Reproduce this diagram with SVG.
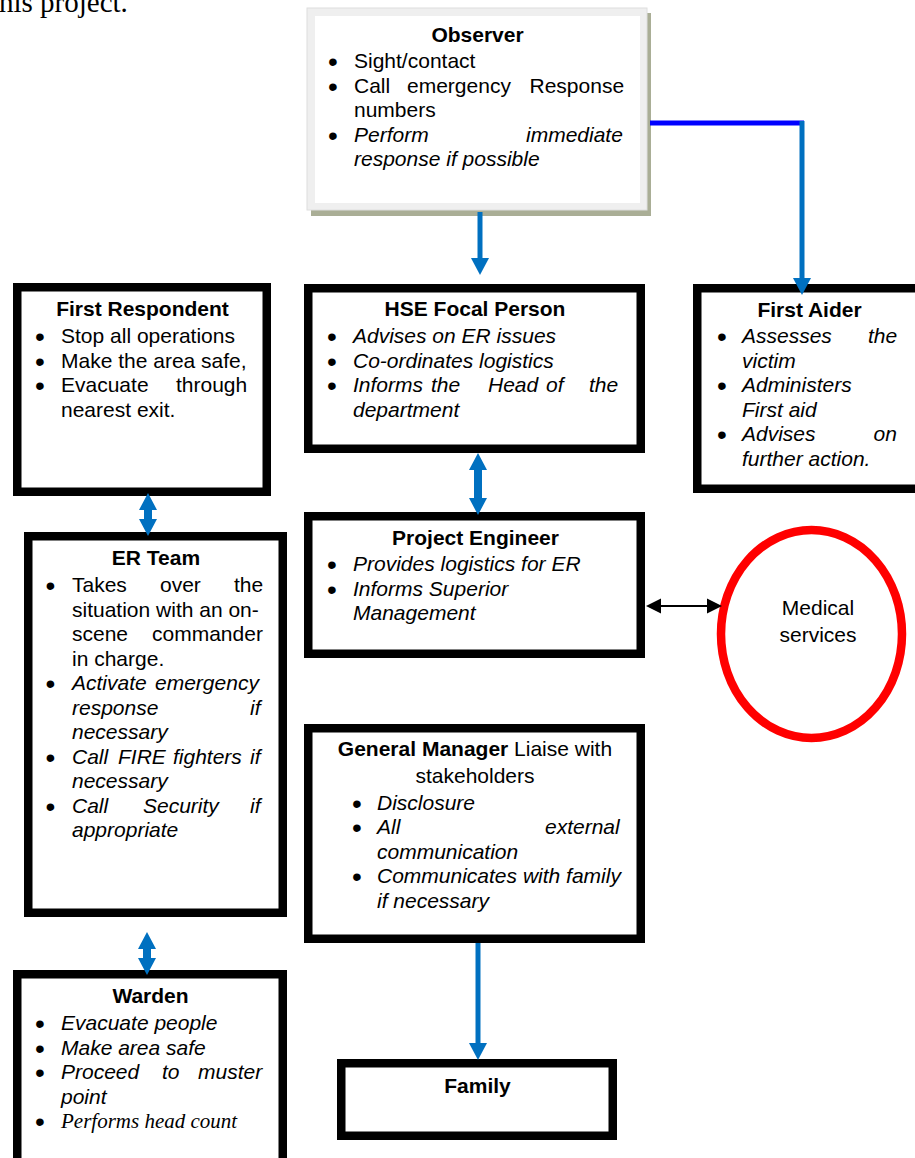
<svg xmlns="http://www.w3.org/2000/svg" width="915" height="1158" viewBox="0 0 915 1158">
<style>
.t{font-family:"Liberation Sans",Arial,sans-serif;font-size:21px;fill:#000}
.u{font-family:"Liberation Sans",Arial,sans-serif;font-size:28px;fill:#000}
.b{font-weight:bold}
.i{font-style:italic}
.c{text-anchor:middle}
.box{fill:#fff;stroke:#000;stroke-width:8.5}
.blue{stroke:#0070c0;stroke-width:5;fill:none}
.ah{fill:#0070c0}
</style>
<rect width="915" height="1158" fill="#fff"/>
<text x="-1" y="12" style="font-family:'Liberation Serif','Times New Roman',serif;font-size:29px;fill:#000">his project.</text>

<g id="observer">
<rect x="311" y="13" width="340" height="203" fill="#aaae96"/>
<rect x="307" y="8" width="340" height="202" fill="#efefef" stroke="#dedede" stroke-width="1"/>
<rect x="315" y="16" width="325" height="187" fill="#fff"/>
<text class="t b c" x="477.5" y="42">Observer</text>
<text class="u" x="328" y="71">•</text><text class="t" x="354" y="68">Sight/contact</text>
<text class="u" x="328" y="95.5">•</text><text class="t" y="92.5"><tspan x="354">Call</tspan><tspan x="407">emergency</tspan><tspan x="529.5">Response</tspan></text>
<text class="t" x="354" y="117">numbers</text>
<text class="u" x="328" y="144.5">•</text><text class="t i" y="141.5"><tspan x="354">Perform</tspan><tspan x="526">immediate</tspan></text>
<text class="t i" x="354" y="166">response if possible</text>
</g>

<g id="first-respondent">
<rect class="box" x="17.25" y="287.25" width="249.5" height="204.5"/>
<text class="t b c" x="142.5" y="316">First Respondent</text>
<text class="u" x="35" y="346">•</text><text class="t" x="61" y="343">Stop all operations</text>
<text class="u" x="35" y="370.5">•</text><text class="t" x="61" y="367.5">Make the area safe,</text>
<text class="u" x="35" y="395">•</text><text class="t" y="392"><tspan x="61">Evacuate</tspan><tspan x="176">through</tspan></text>
<text class="t" x="61" y="416.5">nearest exit.</text>
</g>

<g id="hse-focal-person">
<rect class="box" x="308.25" y="288.25" width="332.5" height="160.5"/>
<text class="t b c" x="475" y="316">HSE Focal Person</text>
<text class="u" x="327" y="346">•</text><text class="t i" x="353" y="343">Advises on ER issues</text>
<text class="u" x="327" y="370.5">•</text><text class="t i" x="353" y="367.5">Co-ordinates logistics</text>
<text class="u" x="327" y="395">•</text><text class="t i" y="392"><tspan x="353">Informs</tspan><tspan x="431">the</tspan><tspan x="488">Head</tspan><tspan x="546">of</tspan><tspan x="589">the</tspan></text>
<text class="t i" x="353" y="416.5">department</text>
</g>

<g id="first-aider">
<rect class="box" x="697.25" y="288.25" width="240" height="200.5"/>
<text class="t b c" x="809.5" y="317">First Aider</text>
<text class="u" x="717" y="346">•</text><text class="t i" y="343"><tspan x="742">Assesses</tspan><tspan x="868">the</tspan></text>
<text class="t i" x="742" y="367.5">victim</text>
<text class="u" x="717" y="395">•</text><text class="t i" x="742" y="392">Administers</text>
<text class="t i" x="742" y="416.5">First aid</text>
<text class="u" x="717" y="444">•</text><text class="t i" y="441"><tspan x="742">Advises</tspan><tspan x="873.5">on</tspan></text>
<text class="t i" x="742" y="465.5">further action.</text>
</g>

<g id="project-engineer">
<rect class="box" x="308.25" y="516.25" width="332.5" height="137.5"/>
<text class="t b c" x="475.5" y="545">Project Engineer</text>
<text class="u" x="327" y="574">•</text><text class="t i" x="353" y="571">Provides logistics for ER</text>
<text class="u" x="327" y="598.5">•</text><text class="t i" x="353" y="595.5">Informs Superior</text>
<text class="t i" x="353" y="620">Management</text>
</g>

<g id="medical-services">
<ellipse cx="811.5" cy="634" rx="90.5" ry="104" fill="#fff" stroke="#ff0000" stroke-width="8.5"/>
<text class="t c" x="818" y="615">Medical</text>
<text class="t c" x="818" y="642">services</text>
</g>

<g id="er-team">
<rect class="box" x="28.25" y="536.25" width="254.5" height="376.5"/>
<text class="t b c" x="156" y="565">ER Team</text>
<text class="u" x="45.5" y="595">•</text><text class="t" y="592"><tspan x="72">Takes</tspan><tspan x="160">over</tspan><tspan x="234">the</tspan></text>
<text class="t" x="72" y="616.5">situation with an on-</text>
<text class="t" y="641"><tspan x="72">scene</tspan><tspan x="152">commander</tspan></text>
<text class="t" x="72" y="665.5">in charge.</text>
<text class="u" x="45.5" y="693">•</text><text class="t i" y="690"><tspan x="72">Activate</tspan><tspan x="155">emergency</tspan></text>
<text class="t i" y="714.5"><tspan x="72">response</tspan><tspan x="250">if</tspan></text>
<text class="t i" x="72" y="739">necessary</text>
<text class="u" x="45.5" y="766.5">•</text><text class="t i" y="763.5"><tspan x="72">Call</tspan><tspan x="118">FIRE</tspan><tspan x="173">fighters</tspan><tspan x="250">if</tspan></text>
<text class="t i" x="72" y="788">necessary</text>
<text class="u" x="45.5" y="815.5">•</text><text class="t i" y="812.5"><tspan x="72">Call</tspan><tspan x="143">Security</tspan><tspan x="250">if</tspan></text>
<text class="t i" x="72" y="837">appropriate</text>
</g>

<g id="general-manager">
<rect class="box" x="308.25" y="728.25" width="332.5" height="210.5"/>
<text class="t c" x="475" y="756"><tspan class="b">General Manager</tspan> Liaise with</text>
<text class="t c" x="475" y="782.5">stakeholders</text>
<text class="u" x="352" y="812.5">•</text><text class="t i" x="377" y="809.5">Disclosure</text>
<text class="u" x="352" y="837">•</text><text class="t i" y="834"><tspan x="377">All</tspan><tspan x="545">external</tspan></text>
<text class="t i" x="377" y="858.5">communication</text>
<text class="u" x="352" y="886">•</text><text class="t i" x="377" y="883">Communicates with family</text>
<text class="t i" x="377" y="907.5">if necessary</text>
</g>

<g id="warden">
<rect class="box" x="17.25" y="974.25" width="265.5" height="200"/>
<text class="t b c" x="150.5" y="1003">Warden</text>
<text class="u" x="35" y="1033">•</text><text class="t i" x="61" y="1030">Evacuate people</text>
<text class="u" x="35" y="1057.5">•</text><text class="t i" x="61" y="1054.5">Make area safe</text>
<text class="u" x="35" y="1082">•</text><text class="t i" y="1079"><tspan x="61">Proceed</tspan><tspan x="162">to</tspan><tspan x="198">muster</tspan></text>
<text class="t i" x="61" y="1103.5">point</text>
<text class="u" x="35" y="1131">•</text><text x="61" y="1128" style="font-family:'Liberation Serif','Times New Roman',serif;font-size:21px;font-style:italic;fill:#000">Performs head count</text>
</g>

<g id="family">
<rect class="box" x="341.25" y="1063.25" width="271.5" height="72.5"/>
<text class="t b c" x="477.5" y="1093">Family</text>
</g>

<g id="connectors">
<line x1="480" y1="212" x2="480" y2="259" class="blue"/>
<polygon class="ah" points="471,258 489,258 480,275"/>
<line x1="650" y1="123" x2="804" y2="123" stroke="#0000ff" stroke-width="5"/>
<line x1="802" y1="121" x2="802" y2="279" class="blue"/>
<polygon class="ah" points="793,278 811,278 802,295"/>
<polygon class="ah" points="148,493 157,510 152,510 152,519 157,519 148,536 139,519 144,519 144,510 139,510"/>
<polygon class="ah" points="478,453 487,470 482,470 482,498 487,498 478,515 469,498 474,498 474,470 469,470"/>
<polygon class="ah" points="147,932 156,949 151,949 151,958 156,958 147,975 138,958 143,958 143,949 138,949"/>
<line x1="659" y1="606" x2="709" y2="606" stroke="#000" stroke-width="2"/>
<polygon points="646,606 661,598.5 661,613.5" fill="#000"/>
<polygon points="722,606 707,598.5 707,613.5" fill="#000"/>
<line x1="478" y1="943" x2="478" y2="1044" class="blue"/>
<polygon class="ah" points="469,1043 487,1043 478,1060"/>
</g>
</svg>
